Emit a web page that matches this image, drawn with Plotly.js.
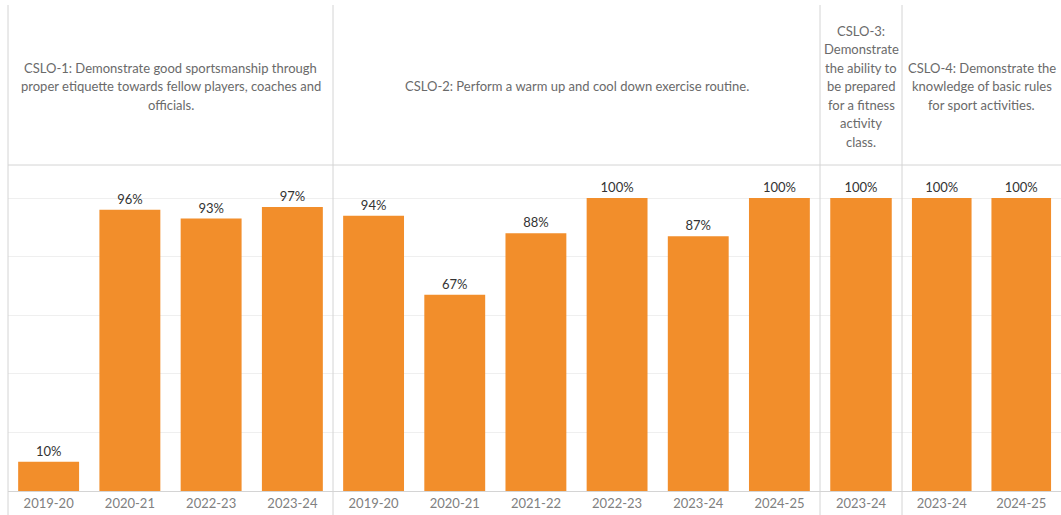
<!DOCTYPE html>
<html>
<head>
<meta charset="utf-8">
<script src="https://cdn.plot.ly/plotly-3.0.1.min.js"></script>
<style>html,body{margin:0;padding:0;background:#fff;}#chart{width:1061px;height:515px;}</style>
</head>
<body>
<div id="chart"></div>
<script>
// Data
const cslo1Years = ["2019-20", "2020-21", "2022-23", "2023-24"];
const cslo1Values = [10, 96, 93, 97];
const cslo2Years = ["2019-20", "2020-21", "2021-22", "2022-23", "2023-24", "2024-25"];
const cslo2Values = [94, 67, 88, 100, 87, 100];
const cslo3Years = ["2023-24"];
const cslo3Values = [100];
const cslo4Years = ["2023-24", "2024-25"];
const cslo4Values = [100, 100];
const panelTitles = [
  ["CSLO-1: Demonstrate good sportsmanship through", "proper etiquette towards fellow players, coaches and", "officials."],
  ["CSLO-2: Perform a warm up and cool down exercise routine."],
  ["CSLO-3:", "Demonstrate", "the ability to", "be prepared", "for a fitness", "activity", "class."],
  ["CSLO-4: Demonstrate the", "knowledge of basic rules", "for sport activities."]
];

const panels = [
  {x: cslo1Years, y: cslo1Values},
  {x: cslo2Years, y: cslo2Values},
  {x: cslo3Years, y: cslo3Values},
  {x: cslo4Years, y: cslo4Values}
];

const W = 1053;          // plot width in px
const H = 326;           // plot height in px
const panelEdges = [0, 325, 812, 894, 1053];   // pixel edges of the facet panels
const FONT = "Lato, 'Open Sans', sans-serif";
const ORANGE = "#F28E2B";
const LINE = "#d4d4d4";
const LINE_H = 18.5;

let traces = [];
let layout = {
  width: 1061, height: 515,
  margin: {l: 8, r: 0, t: 165, b: 24},
  paper_bgcolor: "#fff", plot_bgcolor: "#fff",
  showlegend: false,
  bargap: 0.25,
  font: {family: FONT, size: 13, color: "#666"},
  yaxis: {range: [0, 111.3], dtick: 20, showticklabels: false, showgrid: true,
          gridcolor: "#efefef", gridwidth: 1, zeroline: false, showline: false, fixedrange: true},
  shapes: [],
  annotations: []
};

panels.forEach((p, i) => {
  const d0 = panelEdges[i] / W;
  const d1 = panelEdges[i + 1] / W;
  const ax = i === 0 ? "x" : "x" + (i + 1);
  const axKey = i === 0 ? "xaxis" : "xaxis" + (i + 1);
  traces.push({
    type: "bar", x: p.x, y: p.y, xaxis: ax, yaxis: "y",
    marker: {color: ORANGE},
    text: p.y.map(v => v + "%"), textposition: "outside",
    textfont: {family: FONT, size: 13, color: "#333"},
    cliponaxis: false, hoverinfo: "skip"
  });
  layout[axKey] = {
    domain: [d0, d1], anchor: "y", type: "category",
    range: [-0.5, p.x.length - 0.5],
    showgrid: false, zeroline: false, showline: true, linecolor: LINE, linewidth: 1,
    ticks: "", tickfont: {family: FONT, size: 13, color: "#808080"}, fixedrange: true
  };
  const lines = panelTitles[i];
  const centerFromTop = 86;  // px from top of figure
  lines.forEach((t, k) => {
    const yPx = centerFromTop + (k - (lines.length - 1) / 2) * LINE_H; // px from figure top
    layout.annotations.push({
      xref: "paper", yref: "paper", x: (d0 + d1) / 2, y: 1 + (165 - yPx) / H,
      xanchor: "center", yanchor: "middle", showarrow: false, align: "center",
      text: t, font: {family: FONT, size: 13, color: "#6a6a6a"}
    });
  });
});

// header bottom border
layout.shapes.push({type: "line", xref: "paper", yref: "paper", x0: 0, x1: 1, y0: 1, y1: 1,
  line: {color: LINE, width: 1}});
// vertical panel separators
panelEdges.slice(0, panelEdges.length - 1).forEach(e => {
  const b = e / W;
  layout.shapes.push({type: "line", xref: "paper", yref: "paper", x0: b, x1: b,
    y0: -24 / H, y1: 1 + 160 / H, line: {color: LINE, width: 1}});
});

Plotly.newPlot("chart", traces, layout, {displayModeBar: false, staticPlot: true});
</script>
</body>
</html>
